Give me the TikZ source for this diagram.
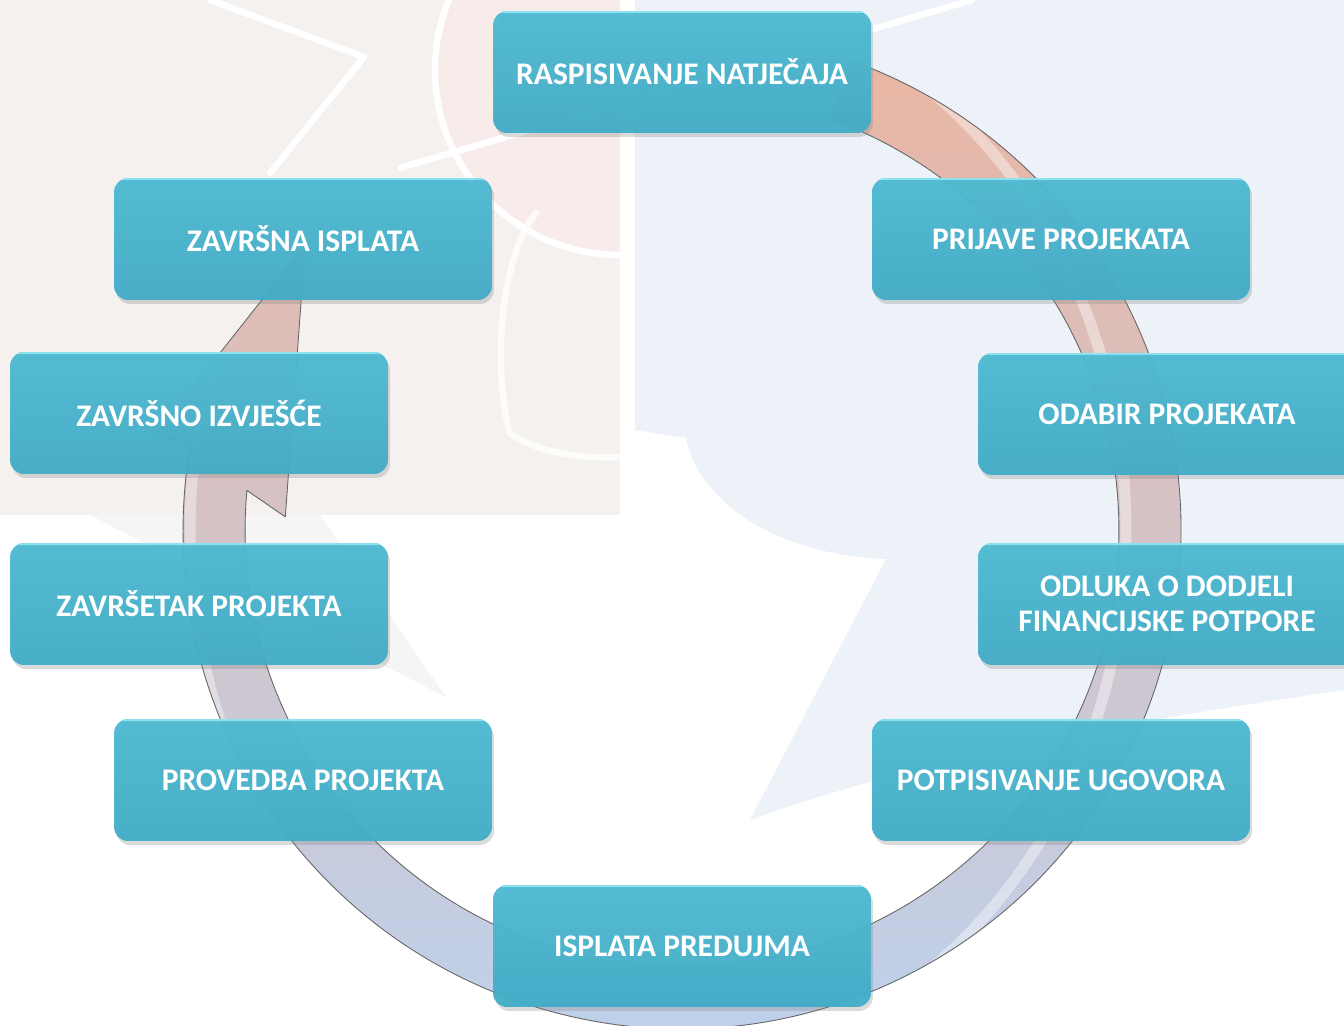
\documentclass[tikz,border=0pt]{standalone}
\usepackage{fontspec}
\setmainfont{Carlito}
\usetikzlibrary{calc,shadows}

\definecolor{boxfill}{HTML}{48B5CF}
\definecolor{boxhigh}{HTML}{4DBAD2}
\definecolor{boxlow}{HTML}{42ACC7}
\definecolor{boxtop}{HTML}{8DE2F0}
\definecolor{ringpink}{HTML}{E9B6A4}
\definecolor{ringlilac}{HTML}{C9C5D9}
\definecolor{ringblue}{HTML}{BCD2EF}
\definecolor{bgbeige}{HTML}{F4F1EF}
\definecolor{bgpink}{HTML}{F7ECE9}
\definecolor{bgblue}{HTML}{ECF2F8}
\definecolor{bggrey}{HTML}{F6F5F5}

% outline of the round arrow
\newcommand{\ringshape}{($(C)+(70:9.98cm)$) arc[start angle=70, end angle=-190, radius=9.98cm]
  -- ($(C)+(169.8:10.71cm)$) -- ($(C)+(142.9:9.45cm)$) -- ($(C)+(178.1:7.94cm)$) -- ($(C)+(174.8:8.74cm)$)
  arc[start angle=-185.2, end angle=70, radius=8.74cm] -- cycle}

\begin{document}
\begin{tikzpicture}[x=0.02cm, y=0.02cm,
  block/.style={rounded corners=0.28cm, minimum width=7.56cm, minimum height=2.44cm,
    align=center, text=white, font=\bfseries\fontsize{17.9}{20}\selectfont,
    top color=boxhigh, middle color=boxfill, bottom color=boxlow,
    fill opacity=0.95, text opacity=1,
    drop shadow={shadow xshift=0.04cm, shadow yshift=-0.08cm, opacity=0.28},
    path picture={\draw[boxtop, line width=2.2pt] (path picture bounding box.north west) -- (path picture bounding box.north east);}},
  ring/.style={top color=ringpink, middle color=ringlilac, bottom color=ringblue},
  mark line/.style={white, line width=0.13cm, line cap=round, line join=round}]

  \useasboundingbox (0,0) rectangle (1344,1025);
  \fill[white] (0,0) rectangle (1344,1025);

  % Background
  \fill[bgbeige] (0,510) rectangle (620,1025);
  \fill[bggrey] (90,510) -- (320,510) -- (446,328) -- cycle;
  \fill[bgblue] (635,595) -- (635,1025) -- (1344,1025) -- (1344,335)
    .. controls (1100,300) and (900,260) .. (750,205) -- (886,466)
    .. controls (780,470) and (700,520) .. (686,587) -- cycle;
  \begin{scope}
    \clip (0,510) rectangle (620,1025);
    \fill[bgpink] (620,955) circle[radius=3.7cm];
    \draw[mark line] (620,955) circle[radius=3.7cm];
  \end{scope}
  \draw[mark line] (210,1025) -- (364,968) -- (270,852);
  \draw[mark line] (400,857) -- (972,1025);
  \draw[mark line, opacity=0.8] (536,812) .. controls (495,760) and (495,640) .. (510,592) .. controls (540,570) and (590,566) .. (621,568);

  % Round arrow
  \coordinate (C) at (682,495);
  \path[ring] \ringshape;
  \begin{scope}
    \clip \ringshape;
    \draw[white, line width=0.22cm, opacity=0.4] ($(C)+(-24,0)$) ellipse[x radius=9.36cm, y radius=10.8cm];
  \end{scope}
  \path[draw=black!60, line width=0.5pt, line join=round] \ringshape;

  % Top and bottom
  \node[block] (raspis) at (682,953) {RASPISIVANJE NATJEČAJA};
  \node[block] (predujam) at (682,79) {ISPLATA PREDUJMA};

  % Right side
  \node[block] (prijave) at (1061,786) {PRIJAVE PROJEKATA};
  \node[block] (odabir) at (1167,611) {ODABIR PROJEKATA};
  \node[block] (odluka) at (1167,421) {ODLUKA O DODJELI\\FINANCIJSKE POTPORE};
  \node[block] (ugovor) at (1061,245) {POTPISIVANJE UGOVORA};

  % Left side
  \node[block] (provedba) at (303,245) {PROVEDBA PROJEKTA};
  \node[block] (zavrsetak) at (199,421) {ZAVRŠETAK PROJEKTA};
  \node[block] (izvjesce) at (199,612) {ZAVRŠNO IZVJEŠĆE};
  \node[block] (isplata) at (303,786) {ZAVRŠNA ISPLATA};

\end{tikzpicture}
\end{document}
